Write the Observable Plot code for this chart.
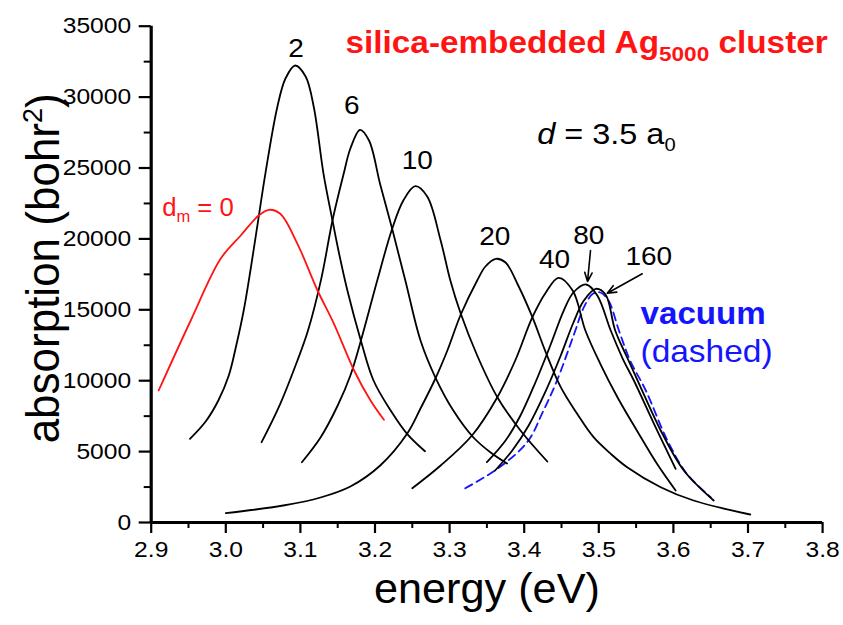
<!DOCTYPE html>
<html>
<head>
<meta charset="utf-8">
<script src="https://cdn.jsdelivr.net/npm/d3@7"></script>
<script src="https://cdn.jsdelivr.net/npm/@observablehq/plot@0.6"></script>
<style>
  html, body { margin: 0; padding: 0; background: #fff; }
  #chart { width: 843px; height: 625px; overflow: hidden; }
</style>
</head>
<body>
<div id="chart"></div>
<script>
// Absorption spectra of a silica-embedded Ag5000 cluster for several d_m values.
const seriesNames = ["0", "2", "6", "10", "20", "40", "80", "160", "vacuum"];

const energy_dm0 = [2.910, 2.953, 2.993, 3.020, 3.044, 3.058, 3.073, 3.096, 3.123, 3.145, 3.172, 3.194, 3.212];
const absorb_dm0 = [9309, 14245, 18596, 20239, 21650, 22051, 21770, 19654, 16361, 14012, 10719, 8603, 7243];

const energy_dm2 = [2.952, 2.973, 2.990, 3.004, 3.014, 3.024, 3.033, 3.042, 3.053, 3.069, 3.080, 3.093, 3.107, 3.118, 3.131, 3.143, 3.151, 3.163, 3.181, 3.198, 3.221, 3.243, 3.267];
const absorb_dm2 = [5903, 7123, 8603, 10366, 12482, 14950, 17771, 20825, 24590, 29287, 31311, 32228, 31452, 29287, 24590, 21297, 19181, 16361, 12835, 10014, 7898, 6255, 5028];

const energy_dm6 = [3.048, 3.073, 3.096, 3.110, 3.128, 3.143, 3.158, 3.167, 3.180, 3.192, 3.207, 3.223, 3.241, 3.261, 3.281, 3.305, 3.332, 3.355, 3.377];
const absorb_dm6 = [5663, 8370, 11424, 13500, 17200, 21297, 24590, 26374, 27693, 26938, 23836, 20712, 16995, 12835, 10225, 7898, 5994, 4936, 4161];

const energy_dm10 = [3.102, 3.127, 3.150, 3.167, 3.183, 3.203, 3.223, 3.238, 3.254, 3.270, 3.288, 3.301, 3.315, 3.337, 3.364, 3.395, 3.431];
const absorb_dm10 = [4252, 5994, 8251, 10366, 13187, 17066, 20712, 22707, 23716, 22989, 19887, 17066, 14718, 11777, 8836, 6488, 4302];

const energy_dm20 = [3.000, 3.077, 3.127, 3.167, 3.207, 3.243, 3.261, 3.281, 3.297, 3.315, 3.337, 3.348, 3.362, 3.375, 3.392, 3.411, 3.429, 3.449, 3.471, 3.493, 3.516, 3.538, 3.583, 3.627, 3.703];
const absorb_dm20 = [656, 1199, 1763, 2539, 4020, 6255, 8039, 10155, 12129, 14668, 17066, 18053, 18596, 18335, 16713, 14478, 11988, 9542, 7664, 6015, 4845, 3900, 2489, 1551, 564];

const energy_dm40 = [3.250, 3.288, 3.330, 3.364, 3.388, 3.411, 3.429, 3.446, 3.465, 3.482, 3.502, 3.525, 3.551, 3.578, 3.603];
const absorb_dm40 = [2419, 4020, 6135, 8836, 11424, 14478, 16220, 17256, 16360, 13540, 11191, 8836, 6488, 4140, 2257];

const energy_dm80 = [3.350, 3.375, 3.395, 3.415, 3.435, 3.453, 3.466, 3.483, 3.498, 3.516, 3.532, 3.547, 3.574, 3.603];
const absorb_dm80 = [4252, 5783, 7546, 9873, 12482, 14950, 16220, 16784, 16008, 13540, 11565, 10014, 6960, 3787];

const energy_dm160 = [3.361, 3.384, 3.406, 3.428, 3.449, 3.466, 3.480, 3.496, 3.509, 3.522, 3.538, 3.556, 3.583, 3.614, 3.654];
const absorb_dm160 = [3667, 5077, 6840, 9168, 11777, 14104, 15655, 16481, 16079, 13540, 11636, 9542, 6488, 3667, 1551];

const energy_vac = [3.321, 3.364, 3.404, 3.425, 3.444, 3.467, 3.480, 3.492, 3.502, 3.513, 3.527, 3.542, 3.563, 3.592, 3.618, 3.650];
const absorb_vac = [2419, 3787, 5663, 7800, 10014, 13307, 15183, 16128, 16220, 15655, 13540, 11424, 9309, 5783, 3434, 1784];

// Axis ticks
const xMajor = [2.9, 3.0, 3.1, 3.2, 3.3, 3.4, 3.5, 3.6, 3.7, 3.8];
const xMinor = [2.95, 3.05, 3.15, 3.25, 3.35, 3.45, 3.55, 3.65, 3.75];
const yMajor = [0, 5000, 10000, 15000, 20000, 25000, 30000, 35000];
const yMinor = [2500, 7500, 12500, 17500, 22500, 27500, 32500];

const energies = [energy_dm0, energy_dm2, energy_dm6, energy_dm10, energy_dm20, energy_dm40, energy_dm80, energy_dm160, energy_vac];
const absorbs = [absorb_dm0, absorb_dm2, absorb_dm6, absorb_dm10, absorb_dm20, absorb_dm40, absorb_dm80, absorb_dm160, absorb_vac];

const rows = [];
seriesNames.forEach((name, k) => {
  energies[k].forEach((e, i) => rows.push({series: name, energy: e, absorption: absorbs[k][i]}));
});

const RED = "#ff1414";
const BLUE = "#1414ff";
const FONT = "'Liberation Sans', Arial, Helvetica, sans-serif";

function note(text, e, a, opts = {}) {
  return Plot.text([text], {x: () => e, y: () => a, text: d => d, ...opts});
}

const plot = Plot.plot({
  width: 843,
  height: 625,
  marginLeft: 150.7,
  marginRight: 20.9,
  marginTop: 25.7,
  marginBottom: 103,
  style: {fontFamily: FONT, background: "white", color: "black", overflow: "visible"},
  x: {domain: [2.9, 3.8]},
  y: {domain: [0, 35000]},
  marks: [
    // minor and major ticks
    Plot.axisX(xMinor, {anchor: "bottom", tickSize: 6, tickFormat: () => "", label: null, strokeWidth: 2}),
    Plot.axisX(xMajor, {anchor: "bottom", tickSize: 11, tickPadding: 8, tickFormat: d => d.toFixed(1), fontSize: 22, label: null, strokeWidth: 2.2}),
    Plot.axisY(yMinor, {anchor: "left", tickSize: 7, tickFormat: () => "", label: null, strokeWidth: 2}),
    Plot.axisY(yMajor, {anchor: "left", tickSize: 12, tickPadding: 8, tickFormat: d => String(d), fontSize: 22, label: null, strokeWidth: 2.2}),
    // axis lines
    Plot.ruleY([0], {strokeWidth: 3.2}),
    Plot.ruleX([2.9], {strokeWidth: 3.2}),
    // axis titles
    Plot.text(["absorption (bohr2)"], {frameAnchor: "left", textAnchor: "middle", rotate: -90, dx: -107, dy: -6, fontSize: 44, text: d => d}),
    Plot.text(["energy (eV)"], {frameAnchor: "bottom", dy: 80, fontSize: 42, text: d => d}),
    // spectra
    Plot.line(rows.filter(d => d.series === "vacuum"), {x: "energy", y: "absorption", stroke: BLUE, strokeWidth: 1.8, strokeDasharray: "8,5", curve: "catmull-rom"}),
    Plot.line(rows.filter(d => d.series !== "0" && d.series !== "vacuum"), {x: "energy", y: "absorption", z: "series", stroke: "black", strokeWidth: 1.8, curve: "catmull-rom"}),
    Plot.line(rows.filter(d => d.series === "0"), {x: "energy", y: "absorption", stroke: RED, strokeWidth: 1.8, curve: "catmull-rom"}),
    // curve labels
    note("2", 3.094, 33400, {fontSize: 25}),
    note("6", 3.169, 29400, {fontSize: 25}),
    note("10", 3.2566, 25528, {fontSize: 25}),
    note("20", 3.3606, 20120, {fontSize: 25}),
    note("40", 3.4406, 18547, {fontSize: 25}),
    note("80", 3.4866, 20239, {fontSize: 25}),
    note("160", 3.567, 18709, {fontSize: 25}),
    Plot.arrow([0], {x1: () => 3.4889, y1: () => 19181, x2: () => 3.4849, y2: () => 16995, stroke: "black", strokeWidth: 1.6, headLength: 9, headAngle: 45}),
    Plot.arrow([0], {x1: () => 3.5582, y1: () => 17538, x2: () => 3.5113, y2: () => 16170, stroke: "black", strokeWidth: 1.6, headLength: 9, headAngle: 45}),
    // annotations
    note("dm = 0", 2.9147, 22214, {fontSize: 25, textAnchor: "start", fill: RED}),
    note("silica-embedded Ag5000 cluster", 3.1605, 33843, {fontSize: 31, fontWeight: "bold", textAnchor: "start", fill: RED}),
    note("d = 3.5 a0", 3.4174, 27341, {fontSize: 29, textAnchor: "start"}),
    note("vacuum", 3.5559, 14711, {fontSize: 31, fontWeight: "bold", textAnchor: "start", fill: BLUE}),
    note("(dashed)", 3.5559, 12010, {fontSize: 31, textAnchor: "start", fill: BLUE})
  ]
});

// Sub- and superscripts inside the annotation texts
function rich(svg, plain, parts) {
  d3.select(svg).selectAll("text")
    .filter(function () { return this.textContent === plain; })
    .each(function () {
      const t = d3.select(this).text(null);
      let shift = 0;
      for (const p of parts) {
        const s = t.append("tspan").text(p.text);
        const want = p.shift || 0;
        if (want !== shift) { s.attr("dy", want - shift); shift = want; }
        if (p.size) s.attr("font-size", p.size);
        if (p.italic) s.attr("font-style", "italic");
      }
    });
}

rich(plot, "silica-embedded Ag5000 cluster", [
  {text: "silica-embedded Ag"},
  {text: "5000", shift: 8, size: 21},
  {text: " cluster"}
]);
rich(plot, "d = 3.5 a0", [
  {text: "d", italic: true},
  {text: " = 3.5 a"},
  {text: "0", shift: 7, size: 18}
]);
rich(plot, "dm = 0", [
  {text: "d"},
  {text: "m", shift: 7, size: 16},
  {text: " = 0"}
]);
rich(plot, "absorption (bohr2)", [
  {text: "absorption (bohr"},
  {text: "2", shift: -16, size: 27},
  {text: ")"}
]);

// Slightly wide lettering: stretch each text along its own baseline
function stretch(el, s) {
  const tr = el.getAttribute("transform") || "";
  if (/rotate/.test(tr)) el.setAttribute("transform", tr + ` scale(1,${s})`);
  else if (tr) el.setAttribute("transform", tr + ` scale(${s},1)`);
  else {
    const x = +el.getAttribute("x") || 0, y = +el.getAttribute("y") || 0;
    el.removeAttribute("x"); el.removeAttribute("y");
    el.setAttribute("transform", `translate(${x},${y}) scale(${s},1)`);
  }
}
const widen = {
  "silica-embedded Ag5000 cluster": 1.075,
  "d = 3.5 a0": 1.12,
  "vacuum": 1.07,
  "(dashed)": 1.08,
  "dm = 0": 1.03,
  "energy (eV)": 1.03,
  "absorption (bohr2)": 1.05
};
d3.select(plot).selectAll("text").each(function () {
  const c = this.textContent;
  if (/^[\d.]+$/.test(c)) stretch(this, 1.12);
  else if (widen[c]) stretch(this, widen[c]);
});

document.getElementById("chart").appendChild(plot);
</script>
</body>
</html>
